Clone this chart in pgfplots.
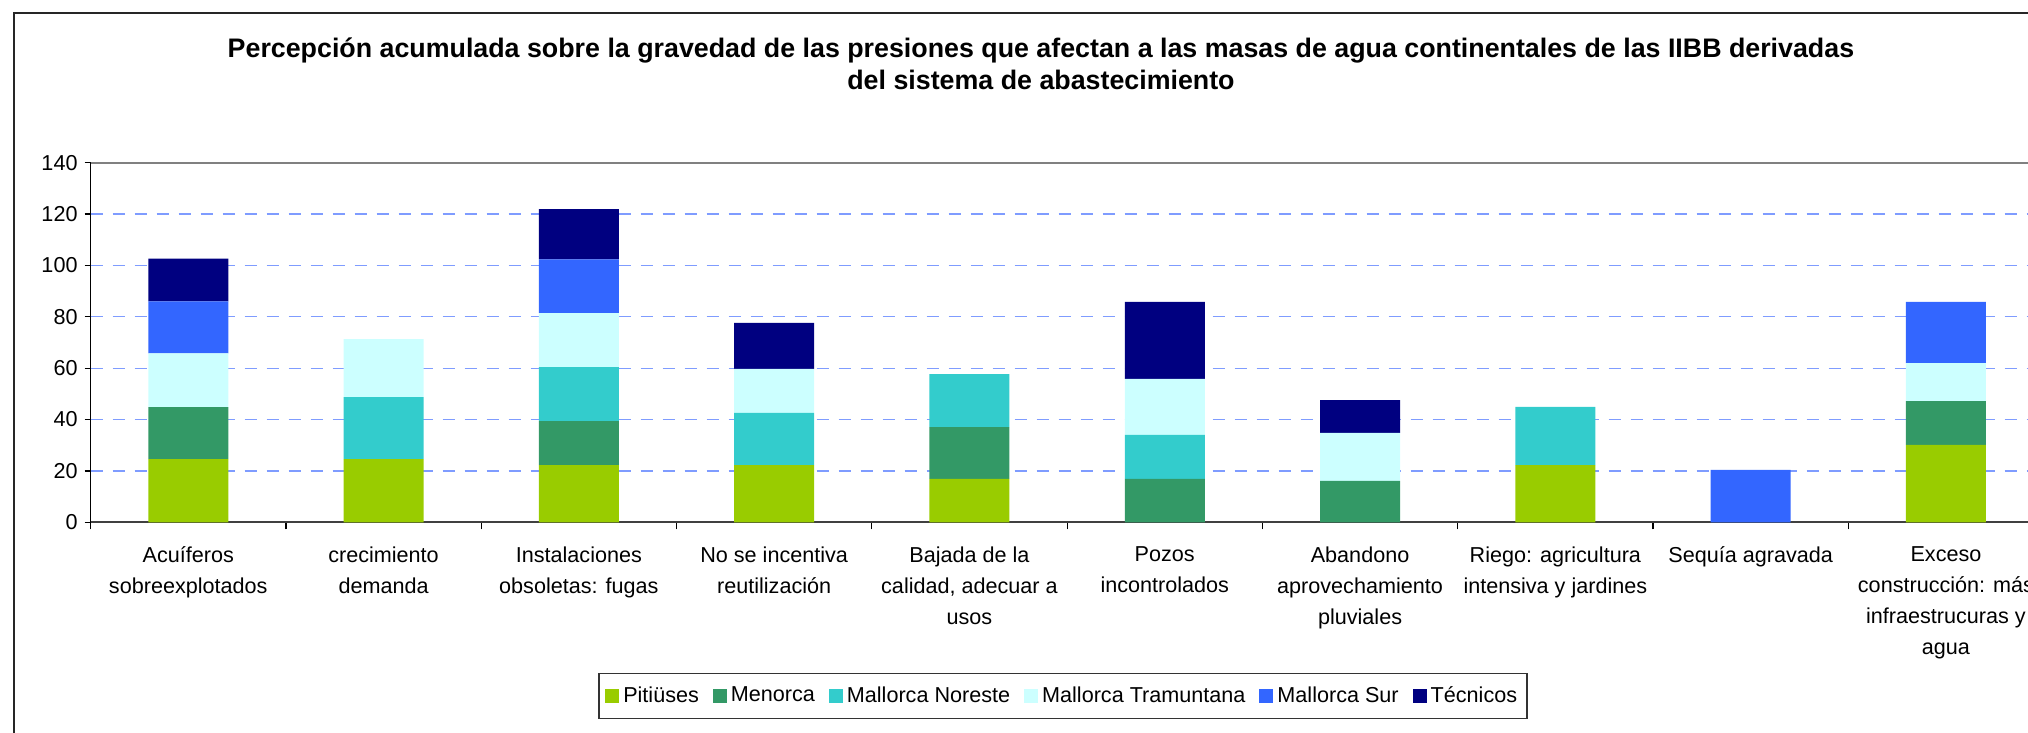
\documentclass[border=0pt]{standalone}
\usepackage{fontspec}
\setmainfont{Liberation Sans}
\usepackage{pgfplots}
\pgfplotsset{compat=1.18}
\usepackage{pgfplotstable}

\definecolor{cPit}{HTML}{99CC00}
\definecolor{cMen}{HTML}{339966}
\definecolor{cNor}{HTML}{33CCCC}
\definecolor{cTra}{HTML}{CCFFFF}
\definecolor{cSur}{HTML}{3366FF}
\definecolor{cTec}{HTML}{000080}
\definecolor{gridblue}{HTML}{7F9CFF}

\pgfplotstableread{
x    P    M    N    T    S    Tec
0.5  24.6 20.2 0    21.0 20.2 16.7
1.5  24.6 0    24.1 22.6 0    0
2.5  22.3 17.1 21.0 21.0 21.0 19.5
3.5  22.3 0    20.3 17.1 0    17.9
4.5  16.9 20.2 20.6 0    0    0
5.5  0    16.9 17.1 21.8 0    30.0
6.5  0    16.1 0    18.7 0    12.8
7.5  22.3 0    22.6 0    0    0
8.5  0    0    0    0    20.4 0
9.5  30.1 17.1 0    14.8 23.8 0
}\data

\begin{document}
\begin{tikzpicture}
\path[use as bounding box] (0,0) rectangle (1014pt,-366.5pt);
\begin{scope}
\clip (0,0) rectangle (1014pt,-366.5pt);
\draw[line width=1pt, black!85] (7pt,-400pt) -- (7pt,-6.35pt) -- (1100pt,-6.35pt);
\node[font=\bfseries\fontsize{13.4}{16}\selectfont, align=center] at (520.5pt,-32pt)
  {Percepción acumulada sobre la gravedad de las presiones que afectan a las masas de agua continentales de las IIBB derivadas\\del sistema de abastecimiento};
\begin{axis}[
  scale only axis, width=976.5pt, height=179.8pt,
  at={(45.3pt,-261.15pt)}, anchor=south west,
  ybar stacked, bar width=40pt,
  xmin=0, xmax=10, ymin=0, ymax=140,
  axis lines*=left,
  x axis line style={line width=1pt, black!75},
  y axis line style={line width=0.6pt, black},
  ytick={0,20,...,140},
  xtick={0.5,1.5,2.5,3.5,4.5,5.5,6.5,7.5,8.5,9.5},
  xticklabels={{Acuíferos\\sobreexplotados}, {crecimiento\\demanda}, {Instalaciones\\obsoletas: fugas}, {No se incentiva\\reutilización}, {Bajada de la\\calidad, adecuar a\\usos}, {Pozos\\incontrolados}, {Abandono\\aprovechamiento\\pluviales}, {Riego: agricultura\\intensiva y jardines}, {Sequía agravada}, {Exceso\\construcción: más\\infraestrucuras y\\agua}},
  minor xtick={0,1,...,10},
  tick align=outside,
  major tick length=3pt, minor tick length=3.5pt,
  major x tick style={draw=none},
  minor x tick style={draw=black, line width=0.6pt},
  major y tick style={draw=black, line width=0.6pt},
  ymajorgrids,
  major grid style={draw=gridblue, dash pattern=on 6pt off 5pt, line width=0.6pt},
  yticklabel style={font=\fontsize{10.8}{13}\selectfont},
  /pgf/number format/assume math mode=true,
  xticklabel style={font=\fontsize{10.8}{15.5}\selectfont, align=center, anchor=north, yshift=-5.5pt},
  legend columns=6,
  legend style={at={(0.498,-0.483)}, anchor=center, draw=black!80, line width=0.8pt,
    font=\fontsize{10.8}{13}\selectfont, inner ysep=4.5pt, inner xsep=3pt,
    /tikz/every even column/.append style={column sep=5pt}},
  legend image code/.code={\fill[#1] (0pt,-3.5pt) rectangle (7pt,3.5pt);},
]
\addplot[fill=cPit, draw=none] table[x=x,y=P]{\data}; \addlegendentry{Pitiüses}
\addplot[fill=cMen, draw=none] table[x=x,y=M]{\data}; \addlegendentry{Menorca}
\addplot[fill=cNor, draw=none] table[x=x,y=N]{\data}; \addlegendentry{Mallorca Noreste}
\addplot[fill=cTra, draw=none] table[x=x,y=T]{\data}; \addlegendentry{Mallorca Tramuntana}
\addplot[fill=cSur, draw=none] table[x=x,y=S]{\data}; \addlegendentry{Mallorca Sur}
\addplot[fill=cTec, draw=none] table[x=x,y=Tec]{\data}; \addlegendentry{Técnicos}
\draw[line width=1pt, gray] (rel axis cs:0,1) -- (rel axis cs:1,1);
\end{axis}
\end{scope}
\end{tikzpicture}
\end{document}
